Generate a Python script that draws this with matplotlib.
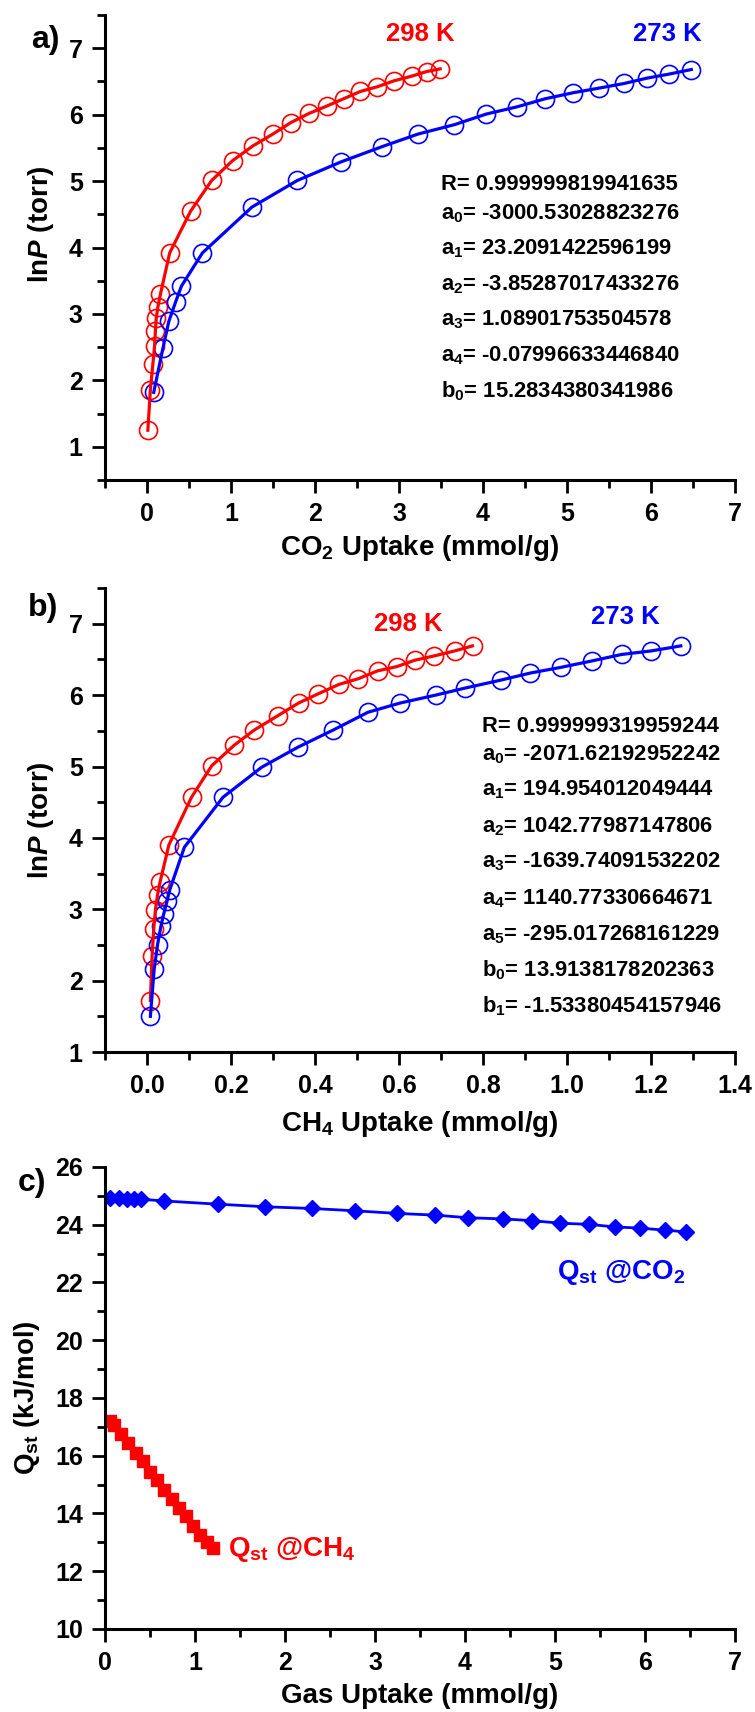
import matplotlib
matplotlib.use('Agg')
from matplotlib import pyplot as plt
from matplotlib.ticker import MultipleLocator

plt.rcParams['font.family'] = ['Liberation Sans', 'DejaVu Sans']
plt.rcParams['font.weight'] = 'bold'
plt.rcParams['mathtext.fontset'] = 'custom'
plt.rcParams['mathtext.rm'] = 'Liberation Sans:bold'
plt.rcParams['mathtext.it'] = 'Liberation Sans:bold:italic'
plt.rcParams['mathtext.bf'] = 'Liberation Sans:bold'
plt.rcParams['mathtext.default'] = 'regular'

RED = '#ff0000'
BLUE = '#0000ff'

# a) CO2 isotherms, ln P vs uptake
co2_298_x = [0.01, 0.04, 0.07, 0.09, 0.10, 0.11, 0.13, 0.16, 0.27, 0.52, 0.77, 1.02, 1.26,
             1.50, 1.71, 1.93, 2.14, 2.34, 2.54, 2.74, 2.94, 3.15, 3.33, 3.49]
co2_298_y = [1.25, 1.86, 2.25, 2.52, 2.75, 2.94, 3.11, 3.30, 3.92, 4.55, 5.01, 5.31, 5.53,
             5.71, 5.88, 6.02, 6.13, 6.24, 6.35, 6.42, 6.51, 6.58, 6.65, 6.69]
co2_273_x = [0.08, 0.19, 0.26, 0.34, 0.41, 0.66, 1.25, 1.79, 2.31, 2.80, 3.23, 3.66, 4.04,
             4.41, 4.74, 5.07, 5.38, 5.68, 5.95, 6.21, 6.48]
co2_273_y = [1.82, 2.49, 2.89, 3.18, 3.42, 3.92, 4.61, 5.01, 5.29, 5.52, 5.71, 5.85, 6.01,
             6.12, 6.24, 6.33, 6.40, 6.47, 6.55, 6.61, 6.68]
co2_fit = ['R= 0.999999819941635',
           'a$_0$= -3000.53028823276',
           'a$_1$= 23.2091422596199',
           'a$_2$= -3.85287017433276',
           'a$_3$= 1.08901753504578',
           'a$_4$= -0.07996633446840',
           'b$_0$= 15.2834380341986']

# b) CH4 isotherms
ch4_298_x = [0.008, 0.012, 0.016, 0.020, 0.025, 0.031, 0.052, 0.106, 0.154, 0.208, 0.255,
             0.311, 0.361, 0.408, 0.457, 0.503, 0.549, 0.595, 0.638, 0.684, 0.733, 0.775]
ch4_298_y = [1.72, 2.34, 2.72, 2.99, 3.20, 3.38, 3.90, 4.57, 5.01, 5.30, 5.51,
             5.71, 5.89, 6.02, 6.15, 6.23, 6.34, 6.40, 6.49, 6.55, 6.62, 6.69]
ch4_273_x = [0.008, 0.017, 0.025, 0.033, 0.040, 0.048, 0.054, 0.089, 0.181, 0.273, 0.359,
             0.443, 0.526, 0.603, 0.687, 0.758, 0.842, 0.913, 0.986, 1.060, 1.130, 1.201, 1.271]
ch4_273_y = [1.50, 2.16, 2.50, 2.76, 2.94, 3.12, 3.27, 3.87, 4.57, 4.99, 5.27,
             5.51, 5.76, 5.89, 6.00, 6.10, 6.21, 6.31, 6.39, 6.48, 6.57, 6.62, 6.69]
ch4_fit = ['R= 0.999999319959244',
           'a$_0$= -2071.62192952242',
           'a$_1$= 194.954012049444',
           'a$_2$= 1042.77987147806',
           'a$_3$= -1639.74091532202',
           'a$_4$= 1140.77330664671',
           'a$_5$= -295.017268161229',
           'b$_0$= 13.9138178202363',
           'b$_1$= -1.53380454157946']

# c) isosteric heat
qst_co2_x = [0.06, 0.16, 0.24, 0.32, 0.40, 0.66, 1.25, 1.78, 2.30, 2.78, 3.24, 3.67, 4.03,
             4.42, 4.74, 5.06, 5.38, 5.67, 5.95, 6.22, 6.46]
qst_co2_y = [24.91, 24.91, 24.90, 24.89, 24.88, 24.82, 24.71, 24.62, 24.56, 24.48, 24.39,
             24.33, 24.24, 24.20, 24.14, 24.05, 24.01, 23.92, 23.88, 23.81, 23.75]
qst_ch4_x = [0.05, 0.10, 0.18, 0.26, 0.34, 0.42, 0.50, 0.58, 0.66, 0.74, 0.82, 0.90, 0.98,
             1.06, 1.13, 1.20]
qst_ch4_y = [17.20, 17.05, 16.75, 16.45, 16.10, 15.80, 15.45, 15.15, 14.80, 14.50, 14.20,
             13.90, 13.55, 13.25, 13.00, 12.80]


def style_axes(ax):
    for side in ['top', 'right']:
        ax.spines[side].set_visible(False)
    for side in ['left', 'bottom']:
        ax.spines[side].set_linewidth(2.2)
    ax.tick_params(which='major', direction='out', length=9.5, width=2, labelsize=18, pad=6.5)
    ax.tick_params(which='minor', direction='out', length=6, width=2)
    for lab in ax.get_xticklabels() + ax.get_yticklabels():
        lab.set_fontweight('bold')


def isotherm(ax, x, y, color):
    ax.plot(x, y, '-', color=color, linewidth=2.3, zorder=3)
    ax.plot(x, y, 'o', color=color, markerfacecolor='none', markersize=13,
            markeredgewidth=1.2, zorder=2)


def label_axes(ax, xlabel, ylabel, xpos, ypos):
    ax.set_xlabel(xlabel, fontsize=20, fontweight='bold')
    ax.set_ylabel(ylabel, fontsize=20, fontweight='bold')
    ax.xaxis.set_label_coords(*xpos)
    ax.xaxis.label.set_va('center')
    ax.yaxis.set_label_coords(*ypos)
    ax.yaxis.label.set_va('center')


fig = plt.figure(figsize=(7.55, 17.12), dpi=100)

# panel a
ax1 = fig.add_axes([0.1391, 0.7196, 0.8344, 0.2716])
isotherm(ax1, co2_298_x, co2_298_y, RED)
isotherm(ax1, co2_273_x, co2_273_y, BLUE)
ax1.set_xlim(-0.5, 7)
ax1.set_ylim(0.5, 7.5)
ax1.xaxis.set_major_locator(MultipleLocator(1))
ax1.xaxis.set_minor_locator(MultipleLocator(0.5))
ax1.set_yticks([1, 2, 3, 4, 5, 6, 7])
ax1.yaxis.set_minor_locator(MultipleLocator(0.5))
style_axes(ax1)
label_axes(ax1, 'CO$_2$ Uptake (mmol/g)', 'ln$\\mathit{P}$ (torr)', (0.5, -0.146), (-0.102, 0.55))
ax1.text(3.25, 7.21, '298 K', color=RED, fontsize=18.5, fontweight='bold', ha='center', va='center')
ax1.text(6.19, 7.21, '273 K', color=BLUE, fontsize=18.5, fontweight='bold', ha='center', va='center')
co2_fit_y = [4.87, 4.43, 3.90, 3.36, 2.83, 2.29, 1.75]
for txt, yy in zip(co2_fit, co2_fit_y):
    ax1.text(3.50, yy, txt, fontsize=15.8, fontweight='bold', ha='left', va='baseline')

# panel b
ax2 = fig.add_axes([0.1391, 0.3855, 0.8344, 0.2710])
isotherm(ax2, ch4_298_x, ch4_298_y, RED)
isotherm(ax2, ch4_273_x, ch4_273_y, BLUE)
ax2.set_xlim(-0.1, 1.4)
ax2.set_ylim(1, 7.5)
ax2.set_xticks([0.0, 0.2, 0.4, 0.6, 0.8, 1.0, 1.2, 1.4])
ax2.set_xticklabels(['0.0', '0.2', '0.4', '0.6', '0.8', '1.0', '1.2', '1.4'])
ax2.xaxis.set_minor_locator(MultipleLocator(0.1))
ax2.set_yticks([1, 2, 3, 4, 5, 6, 7])
ax2.yaxis.set_minor_locator(MultipleLocator(0.5))
style_axes(ax2)
label_axes(ax2, 'CH$_4$ Uptake (mmol/g)', 'ln$\\mathit{P}$ (torr)', (0.5, -0.156), (-0.102, 0.5))
ax2.text(0.621, 7.00, '298 K', color=RED, fontsize=18.5, fontweight='bold', ha='center', va='center')
ax2.text(1.14, 7.09, '273 K', color=BLUE, fontsize=18.5, fontweight='bold', ha='center', va='center')
ch4_fit_y = [5.48, 5.09, 4.59, 4.08, 3.58, 3.07, 2.56, 2.06, 1.55]
for txt, yy in zip(ch4_fit, ch4_fit_y):
    ax2.text(0.798, yy, txt, fontsize=15.8, fontweight='bold', ha='left', va='baseline')

# panel c
ax3 = fig.add_axes([0.1391, 0.0485, 0.8344, 0.2699])
ax3.plot(qst_co2_x, qst_co2_y, '-D', color=BLUE, linewidth=2.0, markersize=8.5)
ax3.plot(qst_ch4_x, qst_ch4_y, '-s', color=RED, linewidth=2.0, markersize=9)
ax3.set_xlim(0, 7)
ax3.set_ylim(10, 26)
ax3.xaxis.set_major_locator(MultipleLocator(1))
ax3.xaxis.set_minor_locator(MultipleLocator(0.5))
ax3.yaxis.set_major_locator(MultipleLocator(2))
ax3.yaxis.set_minor_locator(MultipleLocator(1))
style_axes(ax3)
label_axes(ax3, 'Gas Uptake (mmol/g)', 'Q$_{st}$ (kJ/mol)', (0.5, -0.145), (-0.124, 0.5))
ax3.text(5.02, 22.33, 'Q$_{st}$ @CO$_2$', color=BLUE, fontsize=20, fontweight='bold',
         ha='left', va='center')
ax3.text(1.37, 12.75, 'Q$_{st}$ @CH$_4$', color=RED, fontsize=20, fontweight='bold',
         ha='left', va='center')

fig.text(45 / 755, 1 - 40 / 1712, 'a)', fontsize=23, fontweight='bold', ha='center', va='center')
fig.text(43 / 755, 1 - 608 / 1712, 'b)', fontsize=23, fontweight='bold', ha='center', va='center')
fig.text(32 / 755, 1 - 1183 / 1712, 'c)', fontsize=23, fontweight='bold', ha='center', va='center')

plt.savefig('out.png', dpi=100)
